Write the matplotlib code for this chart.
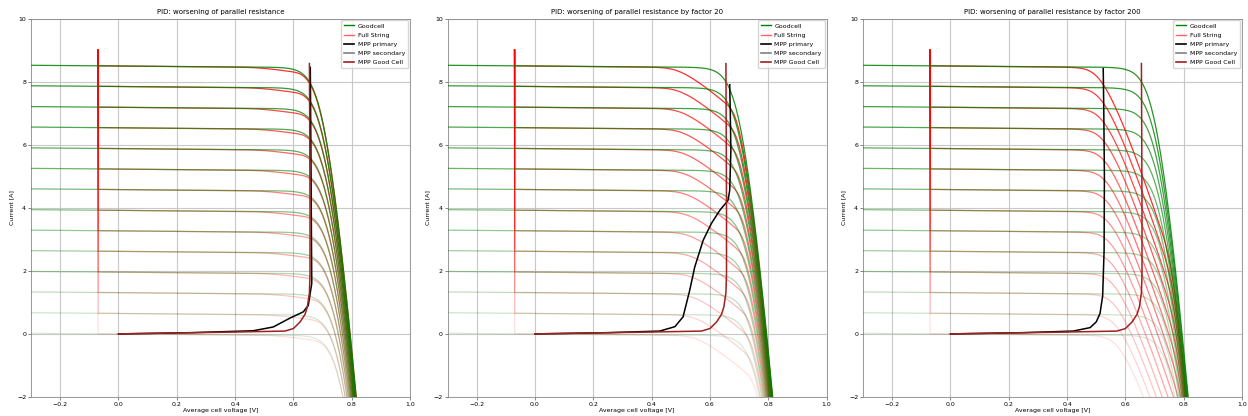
import numpy as np
import matplotlib
matplotlib.use("Agg")
import matplotlib.pyplot as plt
from matplotlib.lines import Line2D

# ---------------- data ----------------
TITLES = ["PID: worsening of parallel resistance",
          "PID: worsening of parallel resistance by factor 20",
          "PID: worsening of parallel resistance by factor 200"]
ISC_LEVELS = [8.5, 7.85, 7.19, 6.54, 5.88, 5.23, 4.58, 3.92, 3.27, 2.62, 1.96, 1.31, 0.65, 0.0]

# single-diode parameters of a good cell
I0 = 1.4e-12
VT = 0.027
RS = 0.0076
RSH_GOOD = 14.0
# PID-affected cells in the string: share of cells and shunt resistance per panel
BAD_SHARE = 0.21
RSH_BAD = [3.0, 0.5, 0.12]
BYPASS_V = -0.07
BYPASS_TOP = 9.0

# MPP loci
MPP_GOOD_V = [0.0, 0.2, 0.4, 0.571, 0.600, 0.623, 0.640, 0.648, 0.655, 0.657, 0.657, 0.656, 0.655]
MPP_GOOD_I = [0.0, 0.03, 0.06, 0.09, 0.17, 0.38, 0.62, 0.86, 1.30, 1.90, 4.00, 6.50, 8.57]

MPP_PRIM_V = [
    [0.0, 0.25, 0.462, 0.531, 0.588, 0.634, 0.651, 0.663, 0.662, 0.660, 0.658],
    [0.0, 0.25, 0.428, 0.480, 0.508, 0.531, 0.548, 0.577, 0.605, 0.634, 0.662, 0.668, 0.672, 0.670, 0.668],
    [0.0, 0.25, 0.421, 0.479, 0.500, 0.513, 0.522, 0.527, 0.528, 0.526, 0.524],
]
MPP_PRIM_I = [
    [0.0, 0.04, 0.10, 0.22, 0.50, 0.70, 0.90, 1.60, 3.00, 6.00, 8.45],
    [0.0, 0.04, 0.09, 0.23, 0.54, 1.39, 2.12, 2.97, 3.50, 3.92, 4.23, 4.55, 5.82, 7.00, 7.90],
    [0.0, 0.04, 0.09, 0.20, 0.38, 0.65, 1.20, 2.65, 5.00, 7.00, 8.41],
]

XLIM = (-0.3, 1.0)
YLIM = (-2, 10)
XTICKS = [-0.2, 0.0, 0.2, 0.4, 0.6, 0.8, 1.0]
YTICKS = [-2, 0, 2, 4, 6, 8, 10]


def cell_curve(isc, rsh, vd):
    return isc - I0 * (np.exp(vd / VT) - 1.0) - vd / rsh


def good_curve(isc):
    vd = np.linspace(-0.35, 0.95, 3000)
    i = cell_curve(isc, RSH_GOOD, vd)
    v = vd - i * RS
    m = i >= -2.6
    return v[m], i[m]


def string_curve(isc, rbad):
    vd_g = np.linspace(-0.1, 0.95, 5000)
    i = cell_curve(isc, RSH_GOOD, vd_g)
    m = i >= -2.6
    vd_g, i = vd_g[m], i[m]
    vd_b_grid = np.linspace(-2.0, 0.95, 8000)
    i_b = cell_curve(isc, rbad, vd_b_grid)
    vd_b = np.interp(i, i_b[::-1], vd_b_grid[::-1])
    vavg = (1 - BAD_SHARE) * (vd_g - i * RS) + BAD_SHARE * (vd_b - i * RS)
    keep = vavg >= BYPASS_V
    i_start = np.interp(BYPASS_V, vavg, i)
    v = np.concatenate([[BYPASS_V, BYPASS_V], vavg[keep]])
    ii = np.concatenate([[BYPASS_TOP, i_start], i[keep]])
    return v, ii


fig = plt.figure(figsize=(12.48, 4.16), dpi=100)
lefts = [31 / 1248, 447.5 / 1248, 863 / 1248]
w = 379 / 1248
bottom = 1 - 397 / 416
h = (397 - 18.5) / 416
n = len(ISC_LEVELS)

for p in range(3):
    ax = fig.add_axes([lefts[p], bottom, w, h])
    ax.grid(True, color="#c8c8c8", lw=0.8, zorder=0)
    ax.set_axisbelow(True)
    for k, isc in enumerate(ISC_LEVELS):
        frac = (n - 1 - k) / (n - 1)
        v, i = string_curve(isc, RSH_BAD[p])
        ax.plot(v, i, color="red", alpha=0.12 + 0.7 * frac, lw=0.9, zorder=2)
    for k, isc in enumerate(ISC_LEVELS):
        frac = (n - 1 - k) / (n - 1)
        v, i = good_curve(isc)
        ax.plot(v, i, color="green", alpha=0.15 + 0.7 * frac, lw=0.9, zorder=3)
    ax.plot(MPP_PRIM_V[p], MPP_PRIM_I[p], color="black", lw=1.1, zorder=4)
    ax.plot(MPP_GOOD_V, MPP_GOOD_I, color="#a02020", lw=1.1, zorder=5)

    ax.set_xlim(*XLIM)
    ax.set_ylim(*YLIM)
    ax.set_xticks(XTICKS)
    ax.set_yticks(YTICKS)
    ax.tick_params(labelsize=4.5, length=2, width=0.5, pad=1.5, color="#555555")
    for s in ax.spines.values():
        s.set_color("#888888")
        s.set_linewidth(0.6)
    ax.set_title(TITLES[p], fontsize=5, pad=3)
    ax.set_xlabel("Average cell voltage [V]", fontsize=4.5, labelpad=1)
    ax.set_ylabel("Current [A]", fontsize=4.5, labelpad=2)
    handles = [Line2D([], [], color="green", lw=1),
               Line2D([], [], color="red", alpha=0.6, lw=1),
               Line2D([], [], color="black", lw=1.2),
               Line2D([], [], color="gray", lw=1.2),
               Line2D([], [], color="#a02020", lw=1.2)]
    labels = ["Goodcell", "Full String", "MPP primary", "MPP secondary", "MPP Good Cell"]
    ax.legend(handles, labels, loc="upper right", fontsize=4.5, frameon=True,
              handlelength=1.6, handletextpad=0.6, borderpad=0.45, labelspacing=0.6,
              borderaxespad=0.3)

fig.savefig("out.png", dpi=100)
